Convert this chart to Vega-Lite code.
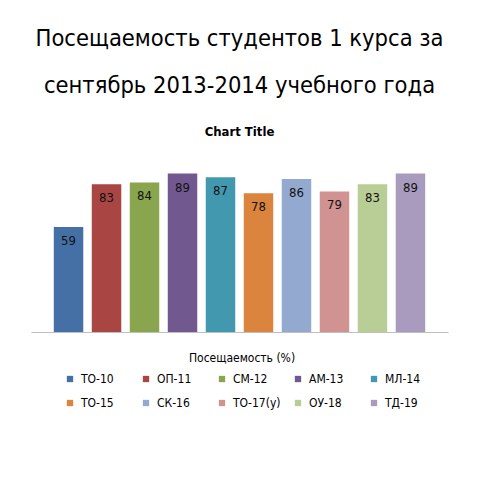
{
  "$schema": "https://vega.github.io/schema/vega-lite/v6.json",
  "width": 417,
  "height": 178,
  "autosize": {"type": "none"},
  "padding": {"left": 31, "top": 154, "right": 32, "bottom": 148},
  "background": "white",
  "title": {
    "text": ["Посещаемость студентов 1 курса за", "сентябрь 2013-2014 учебного года"],
    "subtitle": "Chart Title",
    "font": "DejaVu Sans Condensed",
    "fontSize": 23.5,
    "fontWeight": "normal",
    "lineHeight": 47,
    "color": "#000000",
    "subtitleFont": "DejaVu Sans Condensed",
    "subtitleFontSize": 13,
    "subtitleFontWeight": "bold",
    "subtitleColor": "#000000",
    "subtitlePadding": 29,
    "anchor": "middle",
    "frame": "group",
    "offset": 15
  },
  "data": {
    "values": [
      {"group": "ТО-10", "value": 59},
      {"group": "ОП-11", "value": 83},
      {"group": "СМ-12", "value": 84},
      {"group": "АМ-13", "value": 89},
      {"group": "МЛ-14", "value": 87},
      {"group": "ТО-15", "value": 78},
      {"group": "СК-16", "value": 86},
      {"group": "ТО-17(у)", "value": 79},
      {"group": "ОУ-18", "value": 83},
      {"group": "ТД-19", "value": 89}
    ]
  },
  "encoding": {
    "x": {
      "field": "group",
      "type": "nominal",
      "sort": null,
      "scale": {"paddingInner": 0.224, "paddingOuter": 0.6},
      "axis": {"labels": false, "ticks": false, "title": null, "domainColor": "#bfbfbf", "domainWidth": 1}
    },
    "y": {
      "field": "value",
      "type": "quantitative",
      "scale": {"domain": [0, 100]},
      "axis": null
    }
  },
  "layer": [
    {
      "mark": {"type": "bar"},
      "encoding": {
        "color": {
          "field": "group",
          "type": "nominal",
          "sort": null,
          "scale": {
            "domain": ["ТО-10", "ОП-11", "СМ-12", "АМ-13", "МЛ-14", "ТО-15", "СК-16", "ТО-17(у)", "ОУ-18", "ТД-19"],
            "range": ["#4470A6", "#A94543", "#89A54E", "#71588F", "#4298AF", "#DB843D", "#93A9CF", "#D19392", "#B9CD96", "#A99BBD"]
          },
          "legend": {
            "title": "Посещаемость (%)",
            "orient": "none",
            "legendX": 33,
            "legendY": 199,
            "direction": "horizontal",
            "columns": 5,
            "gridAlign": "all",
            "columnPadding": 11,
            "rowPadding": 12,
            "titleAnchor": "middle",
            "titleFont": "DejaVu Sans Condensed",
            "titleFontSize": 12,
            "titleFontWeight": "normal",
            "titleColor": "#000000",
            "titlePadding": 8,
            "labelFont": "DejaVu Sans Condensed",
            "labelFontSize": 12,
            "labelColor": "#000000",
            "labelOffset": 5,
            "symbolType": "square",
            "symbolSize": 40,
            "symbolStrokeWidth": 0
          }
        }
      }
    },
    {
      "mark": {"type": "text", "baseline": "top", "dy": 8, "font": "DejaVu Sans Condensed", "fontSize": 13, "color": "#111111"},
      "encoding": {
        "text": {"field": "value", "type": "quantitative"}
      }
    }
  ],
  "config": {
    "view": {"stroke": null}
  }
}
